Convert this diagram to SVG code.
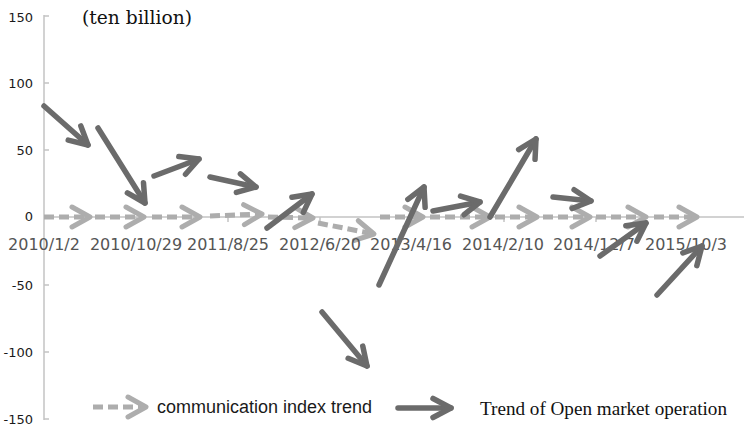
<svg xmlns="http://www.w3.org/2000/svg" width="744" height="427" viewBox="0 0 744 427">
<style>
.ax{stroke:#c4c4c4;stroke-width:1.5;fill:none}
.yl{font-family:"DejaVu Sans",sans-serif;font-size:13px;fill:#1a1a1a;text-anchor:end}
.xl{font-family:"DejaVu Sans",sans-serif;font-size:16px;fill:#555555;text-anchor:middle}
.op{stroke:#6b6b6b;stroke-width:5.5;fill:none;stroke-linecap:round;marker-end:url(#hs)}
.ci{stroke:#adadad;stroke-width:5;fill:none;stroke-dasharray:10 5;marker-end:url(#hd)}
</style>
<defs>
<marker id="hs" markerUnits="userSpaceOnUse" orient="auto" overflow="visible" refX="0" refY="0" markerWidth="1" markerHeight="1">
<path d="M-18,-9.5 L0,0 L-18,9.5" fill="none" stroke="#6b6b6b" stroke-width="5.5" stroke-linecap="round" stroke-linejoin="round" stroke-dasharray="none"/>
</marker>
<marker id="hd" markerUnits="userSpaceOnUse" orient="auto" overflow="visible" refX="0" refY="0" markerWidth="1" markerHeight="1">
<path d="M-18,-10 L0,0 L-18,10" fill="none" stroke="#adadad" stroke-width="5" stroke-linecap="round" stroke-linejoin="round" stroke-dasharray="none"/>
</marker>
</defs>
<rect width="744" height="427" fill="#ffffff"/>
<g id="axes">
<path class="ax" d="M44,15 V420 M44,16 H49 M44,83 H49 M44,150 H49 M44,217 H744 M44,285 H49 M44,352 H49 M44,419 H49"/>
<path class="ax" d="M136,217 V222 M228,217 V222 M320,217 V222 M412,217 V222 M504,217 V222 M596,217 V222 M688,217 V222"/>
</g>
<g id="y-labels">
<text class="yl" x="33" y="22">150</text>
<text class="yl" x="33" y="88">100</text>
<text class="yl" x="33" y="155">50</text>
<text class="yl" x="33" y="221">0</text>
<text class="yl" x="33" y="290">-50</text>
<text class="yl" x="33" y="357">-100</text>
<text class="yl" x="33" y="424">-150</text>
</g>
<text id="unit" x="82" y="24" font-family="'DejaVu Serif',serif" font-size="18.5" fill="#111" textLength="110" lengthAdjust="spacingAndGlyphs">(ten billion)</text>
<g id="communication-index-trend">
<line class="ci" x1="44" y1="217" x2="90" y2="217"/>
<line class="ci" x1="95" y1="217" x2="144" y2="217"/>
<line class="ci" x1="152" y1="217" x2="200" y2="217"/>
<line class="ci" x1="210" y1="216" x2="262" y2="214"/>
<line class="ci" x1="268" y1="217" x2="313" y2="218"/>
<line class="ci" x1="318" y1="223" x2="374" y2="234"/>
<line class="ci" x1="380" y1="217" x2="423" y2="217"/>
<line class="ci" x1="430" y1="217" x2="490" y2="217"/>
<line class="ci" x1="495" y1="217" x2="537" y2="217"/>
<line class="ci" x1="543" y1="217" x2="590" y2="217"/>
<line class="ci" x1="596" y1="217" x2="646" y2="217"/>
<line class="ci" x1="654" y1="217" x2="697" y2="217"/>
</g>
<g id="x-labels">
<text class="xl" x="44" y="250">2010/1/2</text>
<text class="xl" x="136" y="250">2010/10/29</text>
<text class="xl" x="228" y="250">2011/8/25</text>
<text class="xl" x="320" y="250">2012/6/20</text>
<text class="xl" x="411" y="250">2013/4/16</text>
<text class="xl" x="503" y="250">2014/2/10</text>
<text class="xl" x="594" y="250">2014/12/7</text>
<text class="xl" x="686" y="250">2015/10/3</text>
</g>
<g id="open-market-operation">
<line class="op" x1="44" y1="106" x2="88" y2="145"/>
<line class="op" x1="98" y1="128" x2="145" y2="203"/>
<line class="op" x1="154" y1="176" x2="199" y2="159"/>
<line class="op" x1="210" y1="177" x2="256" y2="187"/>
<line class="op" x1="267" y1="228" x2="312" y2="194"/>
<line class="op" x1="322" y1="312" x2="367" y2="366"/>
<line class="op" x1="379" y1="285" x2="424" y2="187"/>
<line class="op" x1="433" y1="211" x2="480" y2="202"/>
<line class="op" x1="490" y1="217" x2="536" y2="139"/>
<line class="op" x1="553" y1="197" x2="591" y2="201"/>
<line class="op" x1="600" y1="256" x2="646" y2="223"/>
<line class="op" x1="657" y1="295" x2="702" y2="246"/>
</g>
<g id="legend">
<line class="ci" x1="93" y1="407" x2="146" y2="407"/>
<text x="157" y="413" font-family="'Liberation Sans',Arial,sans-serif" font-size="18" fill="#1a1a1a" textLength="215" lengthAdjust="spacingAndGlyphs">communication index trend</text>
<line class="op" x1="398" y1="408" x2="451" y2="408"/>
<text x="480" y="415" font-family="'Liberation Serif','Times New Roman',serif" font-size="19" fill="#111" textLength="247" lengthAdjust="spacingAndGlyphs">Trend of Open market operation</text>
</g>
</svg>
